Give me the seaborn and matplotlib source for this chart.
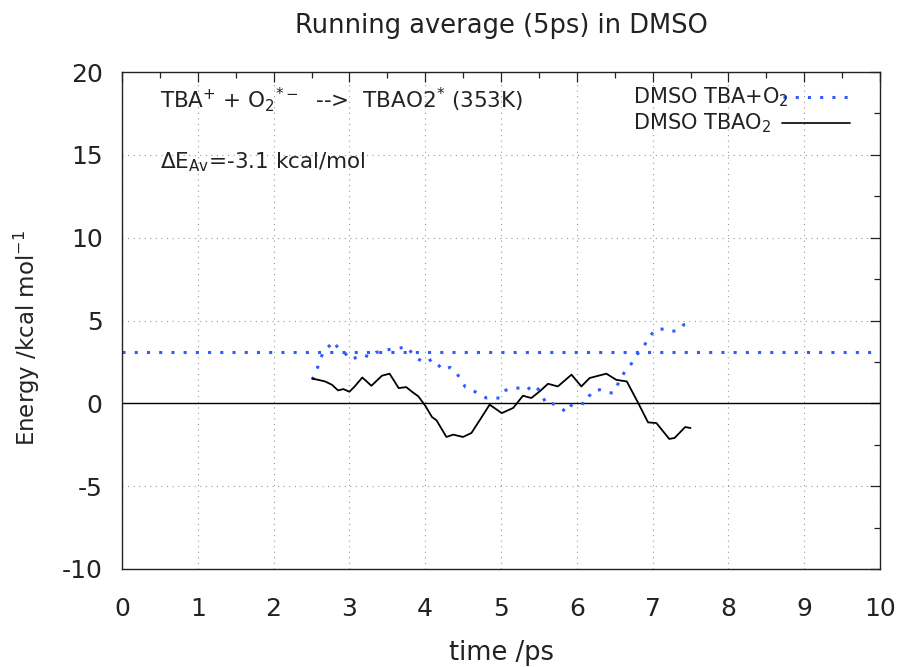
import matplotlib
matplotlib.use("Agg")
import matplotlib.pyplot as plt
from matplotlib.ticker import MultipleLocator
import pandas as pd
import seaborn as sns

# Running averages (5 ps window), energies in kcal/mol
time_tba_o2 = [2.51, 2.56, 2.60, 2.65, 2.71, 2.79, 2.85, 2.94, 3.02, 3.12, 3.19, 3.26, 3.35,
               3.45, 3.57, 3.67, 3.76, 3.83, 3.91, 4.00, 4.09, 4.15, 4.23, 4.33, 4.41, 4.47,
               4.53, 4.63, 4.72, 4.81, 4.90, 4.98, 5.04, 5.15, 5.25, 5.34, 5.42, 5.49, 5.55,
               5.60, 5.68, 5.78, 5.86, 5.92, 6.02, 6.11, 6.16, 6.22, 6.30, 6.39, 6.48, 6.53,
               6.59, 6.65, 6.72, 6.79, 6.85, 6.91, 6.97, 7.04, 7.15, 7.25, 7.34, 7.41, 7.49]
energy_tba_o2 = [1.42, 1.89, 2.43, 3.04, 3.34, 3.74, 3.34, 3.04, 2.63, 2.83, 2.93, 2.79, 3.07,
                 3.19, 3.28, 3.34, 3.43, 2.99, 2.67, 2.43, 2.67, 2.43, 2.03, 2.17, 1.87, 1.42,
                 0.98, 0.78, 0.52, 0.32, 0.32, 0.32, 0.76, 0.92, 0.92, 0.78, 1.12, 0.86, 0.42,
                 -0.08, -0.02, -0.22, -0.55, -0.14, 0.05, -0.04, 0.42, 0.78, 0.82, 0.66, 0.62, 1.06,
                 1.59, 2.03, 2.39, 2.93, 3.23, 3.64, 4.08, 4.48, 4.48, 4.34, 4.40, 4.74, 4.80]

time_tbao2 = [2.51, 2.68, 2.77, 2.85, 2.92, 3.00, 3.07, 3.17, 3.29, 3.43, 3.53, 3.65, 3.75,
              3.82, 3.91, 4.00, 4.09, 4.15, 4.28, 4.37, 4.50, 4.61, 4.72, 4.85, 5.01, 5.16,
              5.29, 5.40, 5.51, 5.62, 5.75, 5.93, 6.06, 6.17, 6.39, 6.52, 6.66, 6.81, 6.94,
              7.05, 7.22, 7.29, 7.43, 7.50]
energy_tbao2 = [1.50, 1.32, 1.12, 0.78, 0.86, 0.70, 1.02, 1.56, 1.06, 1.67, 1.79, 0.92, 0.98,
                0.72, 0.42, -0.14, -0.83, -1.03, -2.03, -1.89, -2.03, -1.79, -1.01, -0.08, -0.59, -0.28,
                0.46, 0.32, 0.72, 1.18, 1.02, 1.73, 1.02, 1.53, 1.79, 1.42, 1.32, 0.02, -1.15,
                -1.19, -2.15, -2.09, -1.43, -1.49]

# Averages over the whole run
avg_tba_o2 = 3.1
avg_tbao2 = 0.0

series_labels = ["DMSO TBA+O$_2$", "DMSO TBAO$_2$"]
x_ticks = list(range(0, 11))
y_ticks = [-10, -5, 0, 5, 10, 15, 20]

sns.set_theme(style="white")
plt.rcParams["font.family"] = ["DejaVu Sans"]
plt.rcParams["mathtext.fontset"] = "dejavusans"
plt.rcParams["axes.unicode_minus"] = False

W, H = 903, 667
fig = plt.figure(figsize=(W / 100, H / 100), dpi=100)
L, R, T, B = 122, 880, 72, 569
ax = fig.add_axes([L / W, 1 - B / H, (R - L) / W, (B - T) / H])

blue = "#2f5bff"
ink = "#222222"
dots = (0, (1, 3))

ax.axhline(avg_tba_o2, color=blue, lw=2.2, ls=dots, zorder=2)
ax.axhline(avg_tbao2, color="black", lw=1.0, zorder=2)

df_a = pd.DataFrame({"time": time_tba_o2, "energy": energy_tba_o2})
df_b = pd.DataFrame({"time": time_tbao2, "energy": energy_tbao2})
sns.lineplot(data=df_a, x="time", y="energy", ax=ax, color=blue, lw=2.2,
             linestyle=dots, sort=False, estimator=None, legend=False, zorder=3)
sns.lineplot(data=df_b, x="time", y="energy", ax=ax, color="black", lw=1.3,
             sort=False, estimator=None, legend=False, zorder=3)

ax.set_xlim(x_ticks[0], x_ticks[-1])
ax.set_ylim(y_ticks[0], y_ticks[-1])
ax.set_xticks(x_ticks)
ax.set_yticks(y_ticks)
ax.xaxis.set_minor_locator(MultipleLocator(0.5))
ax.yaxis.set_minor_locator(MultipleLocator(2.5))

ax.grid(True, which="major", color="#9a9a9a", lw=0.8, ls=(0, (1, 4)))
ax.set_axisbelow(True)
for sp in ax.spines.values():
    sp.set_visible(True)
    sp.set_color(ink)
    sp.set_linewidth(1.0)

ax.tick_params(which="both", direction="in", top=True, right=True, color=ink,
               width=0.9, labelsize=18, labelcolor=ink)
ax.tick_params(which="major", length=7)
ax.tick_params(which="minor", length=4)
ax.tick_params(axis="x", which="major", pad=20)
ax.tick_params(axis="y", which="major", pad=14)

ax.set_xlabel("time /ps", fontsize=18.5, color=ink)
ax.xaxis.set_label_coords((502 - L) / (R - L), (B - 660) / (B - T))
ax.xaxis.label.set_va("baseline")
ax.set_ylabel("Energy /kcal mol$^{\\mathregular{-1}}$", fontsize=16.5, color=ink)
ax.yaxis.set_label_coords((27 - L) / (R - L), (B - 338) / (B - T))
ax.yaxis.label.set_va("center")

fig.text((L + R) / 2 / W, 1 - 33 / H, "Running average (5ps) in DMSO", ha="center",
         va="baseline", fontsize=18.5, color=ink)

ax.text((160 - L) / (R - L), (B - 108) / (B - T),
        "TBA$^{+}$ + O$_2$$^{*-}$  -->  TBAO2$^{*}$ (353K)",
        transform=ax.transAxes, ha="left", va="baseline", fontsize=15.5, color=ink)
delta = avg_tbao2 - avg_tba_o2
ax.text((160 - L) / (R - L), (B - 168) / (B - T),
        f"ΔE$_{{\\mathregular{{Av}}}}$={delta:.1f} kcal/mol",
        transform=ax.transAxes, ha="left", va="baseline", fontsize=15.5, color=ink)

# Key: labels on the left, line samples on the right
key_rows = [(97, blue, 2.2, dots, 783, 848), (123, "black", 1.2, "-", 782, 850)]
for (ypix, col, lw, ls, x0, x1), lab in zip(key_rows, series_labels):
    yk = (B - ypix) / (B - T)
    ax.text((633 - L) / (R - L), yk, lab, transform=ax.transAxes, ha="left",
            va="center", fontsize=15, color=ink)
    ax.plot([(x0 - L) / (R - L), (x1 - L) / (R - L)], [yk, yk], transform=ax.transAxes,
            color=col, lw=lw, ls=ls, clip_on=False)

fig.savefig("out.png", dpi=100)
